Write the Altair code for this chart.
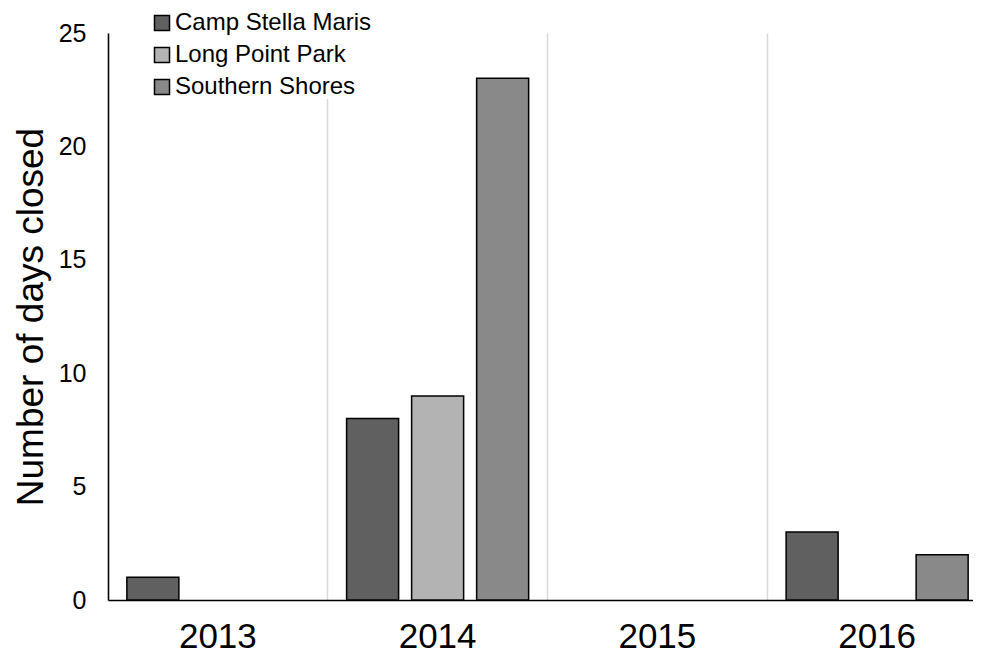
import altair as alt
import pandas as pd

years = ["2013", "2014", "2015", "2016"]
sites = ["Camp Stella Maris", "Long Point Park", "Southern Shores"]
camp_stella_maris = [1, 8, 0, 3]
long_point_park = [0, 9, 0, 0]
southern_shores = [0, 23, 0, 2]
colors = ["#606060", "#b3b3b3", "#898989"]

rows = []
for site, vals in zip(sites, [camp_stella_maris, long_point_park, southern_shores]):
    for y, v in zip(years, vals):
        if v > 0:
            rows.append({"year": y, "site": site, "days": v})
df = pd.DataFrame(rows)

FONT = "Liberation Sans"

chart = alt.Chart(df).mark_bar(stroke="black", strokeWidth=1.5).encode(
    x=alt.X("year:N", sort=years,
            scale=alt.Scale(domain=years, paddingInner=0, paddingOuter=0, range=[0, 879]),
            axis=alt.Axis(title=None, labelAngle=0, labelFontSize=35, labelFont=FONT,
                          labelColor="black", labelPadding=19, labelBaseline="top",
                          ticks=False,
                          grid=True, gridColor="#d9d9d9", gridWidth=1.5, bandPosition=0,
                          domainColor="black", domainWidth=1.5)),
    xOffset=alt.XOffset("site:N", sort=sites,
                        scale=alt.Scale(domain=sites, paddingInner=0.2, paddingOuter=0.29)),
    y=alt.Y("days:Q", scale=alt.Scale(domain=[0, 25]),
            axis=alt.Axis(title="Number of days closed", values=[0, 5, 10, 15, 20, 25],
                          titleFontSize=37, titleFont=FONT, titleFontWeight="normal",
                          titleColor="black", titleX=-58, titleBaseline="bottom",
                          labelFontSize=25, labelFont=FONT, labelColor="black",
                          labelPadding=22, ticks=False, grid=False,
                          domainColor="black", domainWidth=1.5)),
    color=alt.Color("site:N", sort=sites,
                    scale=alt.Scale(domain=sites, range=colors),
                    legend=alt.Legend(title=None, orient="none", legendX=42, legendY=-22,
                                      symbolType="square", symbolSize=225,
                                      symbolStrokeColor="black", symbolStrokeWidth=1.5,
                                      labelFontSize=24, labelFont=FONT, labelColor="black",
                                      labelLimit=0, rowPadding=8, labelOffset=1,
                                      fillColor="white", padding=0)),
).properties(
    width=865, height=567,
    autosize=alt.AutoSizeParams(type="none"),
    padding={"left": 100, "top": 25, "right": 0, "bottom": 55},
).configure_view(stroke=None)

chart.save("out.html", embed_options={"renderer": "svg", "actions": False})
